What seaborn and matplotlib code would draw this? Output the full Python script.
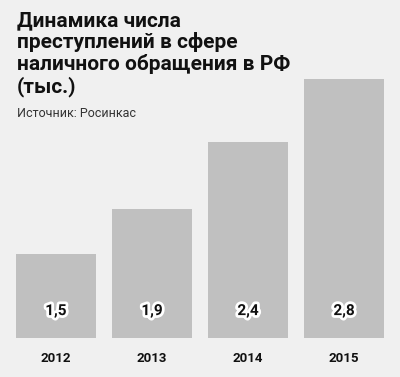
import numpy as np
import pandas as pd
import seaborn as sns
import matplotlib as mpl
import matplotlib.pyplot as plt
import matplotlib.patheffects as pe
import matplotlib.transforms as mtrans

years = ['2012', '2013', '2014', '2015']
values = [1.5, 1.9, 2.4, 2.8]
value_labels = ['1,5', '1,9', '2,4', '2,8']

title = 'Динамика числа\nпреступлений в сфере\nналичного обращения в РФ\n(тыс.)'
source = 'Источник: Росинкас'

sns.set_style('white')
plt.rcParams['font.family'] = ['Roboto', 'DejaVu Sans']

bg = '#f0f0f0'
bar_col = '#c0c0c0'

df = pd.DataFrame({'year': years, 'value': values})

fig = plt.figure(figsize=(4.0, 3.77), dpi=100, facecolor=bg)
ax = fig.add_axes([0.04, 0.1034, 0.92, 0.687])
ax.set_facecolor(bg)

sns.barplot(data=df, x='year', y='value', color=bar_col, saturation=1,
            width=0.83, linewidth=0, ax=ax)

# the original bars are not drawn to a linear scale; a power scale fits them
p = 1.8
ax.set_yscale('function', functions=(lambda v: np.sign(v) * np.abs(v) ** p,
                                     lambda v: np.sign(v) * np.abs(v) ** (1 / p)))
ax.set_xlim(-0.415, 3.415)
ax.set_ylim(0, 2.8)
ax.set_xlabel('')
ax.set_ylabel('')
ax.set_yticks([])
ax.yaxis.set_minor_locator(mpl.ticker.NullLocator())
sns.despine(ax=ax, left=True, bottom=True, top=True, right=True)
ax.tick_params(axis='x', length=0, pad=10, labelsize=9.5)
for lbl in ax.get_xticklabels():
    lbl.set_fontweight('bold')
    lbl.set_color('#111111')

trans = mtrans.blended_transform_factory(ax.transData, ax.transAxes)
for i, txt in enumerate(value_labels):
    ax.text(i, 0.104, txt, transform=trans, ha='center', va='center',
            fontsize=11, fontweight='bold', color='#111111',
            path_effects=[pe.withStroke(linewidth=4, foreground='white')])

fig.text(0.0425, 0.97, title, ha='left', va='top', fontsize=15,
         fontweight='bold', color='#111111', linespacing=1.12)
fig.text(0.0425, 0.70, source, ha='left', va='center', fontsize=9,
         color='#333333')

fig.savefig('out.png', dpi=100, facecolor=bg)
